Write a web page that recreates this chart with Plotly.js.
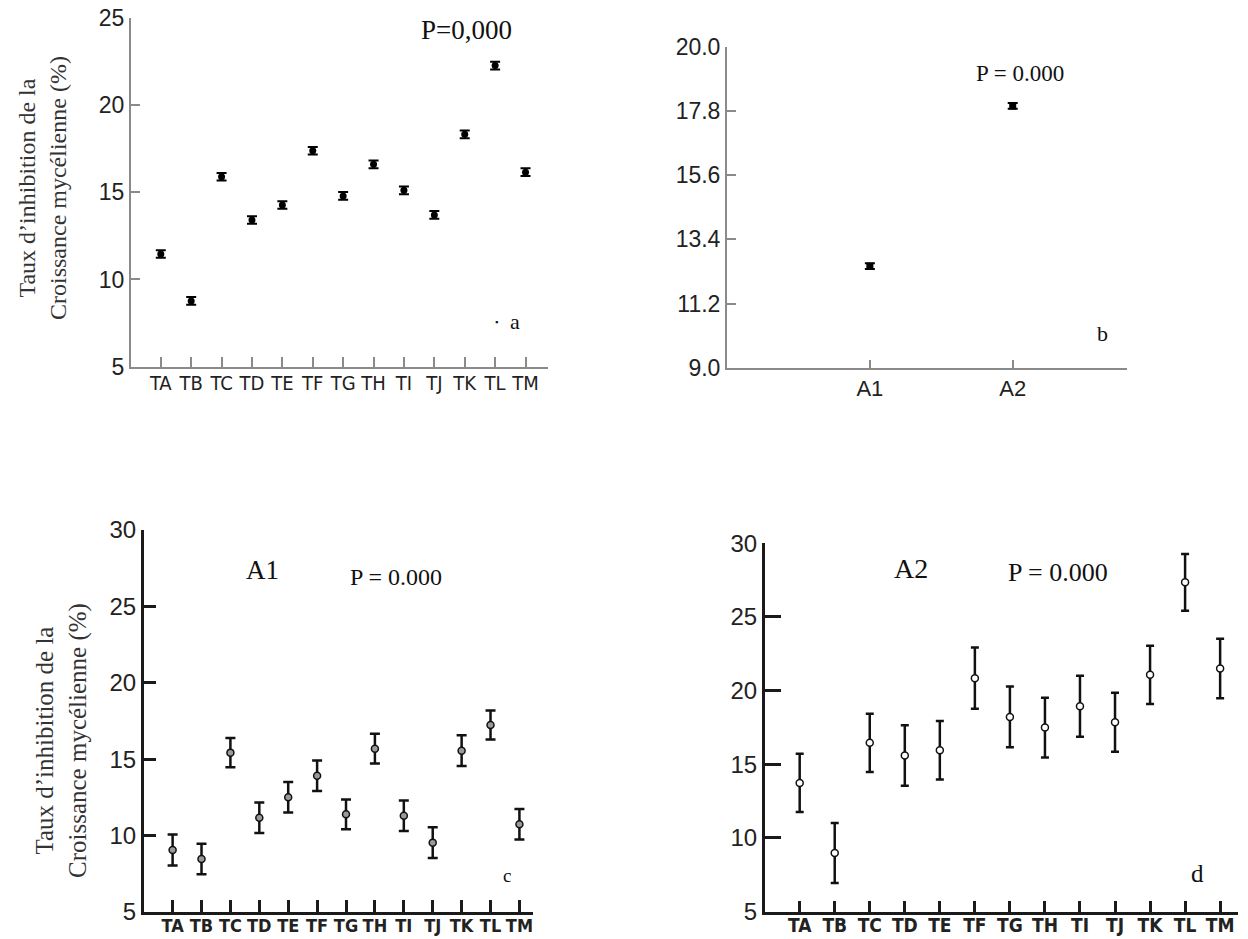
<!DOCTYPE html>
<html>
<head>
<meta charset="utf-8">
<script src="https://cdn.plot.ly/plotly-3.0.1.min.js"></script>
<style>
html,body{margin:0;padding:0;background:#fff;}
#chart{width:1248px;height:939px;}
</style>
</head>
<body>
<div id="chart"></div>
<script>
// ---------- DATA ----------
const treatments = ["TA","TB","TC","TD","TE","TF","TG","TH","TI","TJ","TK","TL","TM"];
// panel a : mean over both A1 and A2
const meanAll   = [11.46, 8.77, 15.89, 13.41, 14.27, 17.38, 14.79, 16.60, 15.11, 13.70, 18.32, 22.26, 16.15];
const errAll    = [0.22, 0.22, 0.22, 0.22, 0.22, 0.22, 0.22, 0.22, 0.22, 0.22, 0.22, 0.22, 0.22];
// panel b : by factor A
const factors   = ["A1","A2"];
const meanFact  = [12.48, 17.97];
const errFact   = [0.10, 0.10];
const factTicks = [9.0, 11.2, 13.4, 15.6, 17.8, 20.0];
// panel c : A1
const meanA1    = [9.06, 8.47, 15.43, 11.17, 12.51, 13.92, 11.39, 15.69, 11.30, 9.54, 15.56, 17.24, 10.74];
const errA1     = [1.02, 1.0, 0.95, 1.0, 1.0, 1.0, 0.97, 0.97, 1.0, 1.0, 1.0, 0.95, 1.0];
// panel d : A2
const meanA2    = [13.73, 8.97, 16.45, 15.59, 15.95, 20.84, 18.21, 17.49, 18.94, 17.85, 21.07, 27.35, 21.50];
const errA2     = [1.98, 2.04, 1.98, 2.06, 1.98, 2.08, 2.06, 2.03, 2.07, 2.0, 1.98, 1.93, 2.02];

// ---------- LAYOUT HELPERS ----------
const W = 1248, H = 939;
const fx = p => p / W;
const fy = p => 1 - p / H;

const yTitle = "Taux d’inhibition de la<br>Croissance mycélienne (%)";
const serif = "Liberation Serif, Times New Roman, serif";
const sans = "Liberation Sans, Arial, sans-serif";
const narrow = "DejaVu Sans Condensed, Liberation Sans Narrow, Arial Narrow, Liberation Sans, sans-serif";

const traces = [
  {
    x: treatments, y: meanAll, xaxis: "x", yaxis: "y", type: "scatter", mode: "markers",
    marker: {symbol: "circle", size: 7, color: "#000"},
    error_y: {type: "data", array: errAll, visible: true, color: "#000", thickness: 2, width: 5},
    hoverinfo: "x+y", showlegend: false
  },
  {
    x: factors, y: meanFact, xaxis: "x2", yaxis: "y2", type: "scatter", mode: "markers",
    marker: {symbol: "square", size: 7, color: "#000"},
    error_y: {type: "data", array: errFact, visible: true, color: "#000", thickness: 2, width: 5},
    hoverinfo: "x+y", showlegend: false
  },
  {
    x: treatments, y: meanA1, xaxis: "x3", yaxis: "y3", type: "scatter", mode: "markers",
    marker: {symbol: "circle", size: 7, color: "#9a9a9a", line: {color: "#111", width: 1.5}},
    error_y: {type: "data", array: errA1, visible: true, color: "#111", thickness: 2.5, width: 5},
    hoverinfo: "x+y", showlegend: false
  },
  {
    x: treatments, y: meanA2, xaxis: "x4", yaxis: "y4", type: "scatter", mode: "markers",
    marker: {symbol: "circle", size: 7, color: "#fff", line: {color: "#111", width: 1.5}},
    error_y: {type: "data", array: errA2, visible: true, color: "#111", thickness: 2.5, width: 4},
    hoverinfo: "x+y", showlegend: false
  }
];

function xAxis(domain, range, lineColor, lineW, fontFamily, fontSize, bold) {
  return {
    domain: domain, range: range, type: "category", anchor: null,
    showline: true, linecolor: lineColor, linewidth: lineW,
    ticks: "inside", ticklen: 10, tickwidth: lineW, tickcolor: lineColor,
    showgrid: false, zeroline: false, fixedrange: true, tickangle: 0,
    tickfont: {family: fontFamily, size: fontSize, color: "#222", weight: bold ? "bold" : "normal"}
  };
}
function yAxis(domain, range, lineColor, lineW, fontSize, ticklen) {
  return {
    domain: domain, range: range,
    showline: true, linecolor: lineColor, linewidth: lineW,
    ticks: "inside", ticklen: ticklen, tickwidth: lineW, tickcolor: lineColor,
    showgrid: false, zeroline: false, fixedrange: true,
    tick0: 5, dtick: 5,
    tickfont: {family: sans, size: fontSize, color: "#222"}
  };
}

const xa = xAxis([fx(131), fx(548)], [-0.98, 12.74], "#8a8a8a", 2, narrow, 20, false); xa.anchor = "y"; xa.ticklabelstandoff = -3;
const ya = yAxis([fy(366.7), fy(17.8)], [5, 25], "#8a8a8a", 2, 23, 9); ya.anchor = "x";
const xb = xAxis([fx(727), fx(1127)], [-1, 1.8], "#8a8a8a", 2, sans, 22, false); xb.anchor = "y2"; xb.ticklen = 8;
const yb = yAxis([fy(367.7), fy(46.7)], [9, 20], "#8a8a8a", 2, 23, 9); yb.anchor = "x2";
yb.tickvals = factTicks; yb.ticktext = factTicks.map(v => v.toFixed(1));
const xc = xAxis([fx(144), fx(533)], [-0.99, 12.47], "#1a1a1a", 3, narrow, 18, true); xc.anchor = "y3"; xc.ticklen = 12; xc.ticklabelstandoff = -5;
const yc = yAxis([fy(912), fy(530)], [5, 30], "#1a1a1a", 3, 24, 12); yc.anchor = "x3";
const xd = xAxis([fx(765), fx(1238)], [-0.99, 12.51], "#1a1a1a", 3, narrow, 19, true); xd.anchor = "y4"; xd.ticklen = 11; xd.ticklabelstandoff = -5;
const yd = yAxis([fy(911.5), fy(543.3)], [5, 30], "#1a1a1a", 3, 24, 16); yd.anchor = "x4";

function ann(text, x, y, size, family, extra) {
  return Object.assign({
    text: text, xref: "paper", yref: "paper", x: fx(x), y: fy(y),
    xanchor: "center", yanchor: "middle", showarrow: false,
    font: {family: family, size: size, color: "#111"}
  }, extra || {});
}

const layout = {
  width: W, height: H,
  margin: {l: 0, r: 0, t: 0, b: 0, pad: 0},
  paper_bgcolor: "#fff", plot_bgcolor: "rgba(0,0,0,0)",
  showlegend: false,
  xaxis: xa, yaxis: ya, xaxis2: xb, yaxis2: yb, xaxis3: xc, yaxis3: yc, xaxis4: xd, yaxis4: yd,
  annotations: [
    ann(yTitle, 42, 188, 24, serif, {textangle: -90, font: {family: serif, size: 24, color: "#333"}}),
    ann(yTitle, 61, 741, 25, serif, {textangle: -90, font: {family: serif, size: 25, color: "#333"}}),
    ann("P=0,000", 466, 30, 27, serif),
    ann("▪", 497, 322, 9, sans),
    ann("a", 515, 322, 22, serif),
    ann("P = 0.000", 1020, 73, 23, serif),
    ann("b", 1102, 333, 22, serif),
    ann("A1", 262, 570, 27, serif),
    ann("P = 0.000", 396, 577, 24, serif),
    ann("c", 507, 875, 19, serif),
    ann("A2", 911, 568, 28, serif),
    ann("P = 0.000", 1058, 572, 26, serif),
    ann("d", 1197, 873, 25, serif)
  ]
};

Plotly.newPlot("chart", traces, layout, {displayModeBar: false, staticPlot: true});
</script>
</body>
</html>
